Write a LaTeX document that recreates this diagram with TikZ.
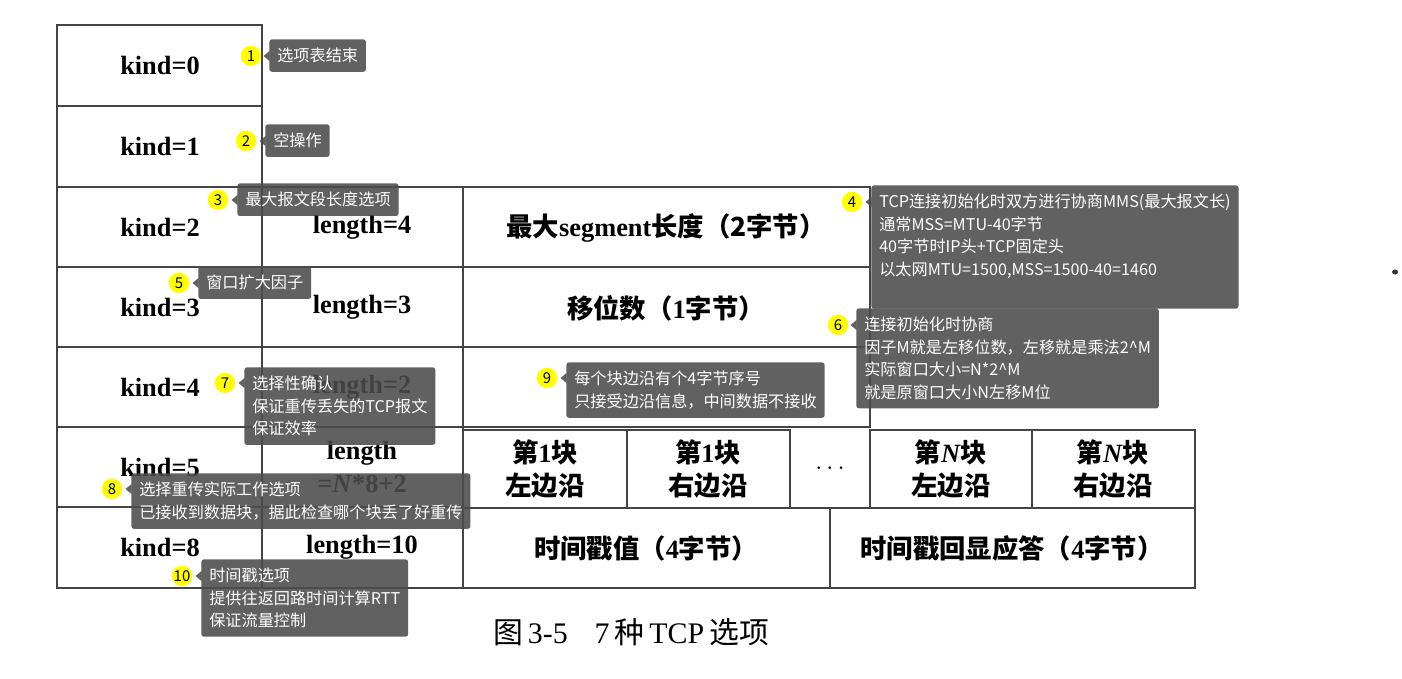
\documentclass[tikz,border=0pt]{standalone}
\usepackage{fontspec}
\setmainfont{Liberation Serif}
\newfontfamily\cjk{Noto Sans CJK SC}
\usepackage{tikz}
\usetikzlibrary{positioning}
\definecolor{gridgray}{rgb}{0.27,0.27,0.27}
\definecolor{notegray}{rgb}{0.30,0.30,0.30}
\definecolor{badgeyel}{rgb}{1.00,1.00,0.00}
\newcommand{\zh}[1]{{\cjk\bfseries #1}}
\tikzset{
  grid/.style={draw=gridgray, line width=1.3pt},
  cell/.style={font=\fontsize{15}{19}\selectfont\bfseries, align=center, inner sep=0pt},
  note/.style={fill=notegray, fill opacity=0.88, text opacity=1, text=white,
    rounded corners=1.5pt, anchor=north west, align=left,
    font=\cjk\fontsize{9.2}{12.8}\selectfont, inner xsep=4.5pt, inner ysep=5pt},
  badge/.style={circle, fill=badgeyel, minimum size=0.41cm, inner sep=0pt,
    font=\cjk\fontsize{8.5}{10}\selectfont}
}

\begin{document}
\begin{tikzpicture}[x=0.02cm, y=-0.02cm]
    \fill[white] (0,0) rectangle (1402,679);
    \useasboundingbox (0,0) rectangle (1402,679);

    % kind column
    \foreach \k/\ya/\yb in {0/25/106, 1/106/187, 2/187/267, 3/267/347, 4/347/427, 5/427/507, 8/507/588}{
      \draw[grid] (57,\ya) rectangle (262,\yb);
      \node[cell] (kind\k) at (160,{(\ya+\yb)/2}) {kind=\k};
    }

    % length column
    \foreach \k/\ya/\yb/\len in {2/187/267/4, 3/267/347/3, 4/347/427/2, 8/507/588/10}{
      \draw[grid] (262,\ya) rectangle (463,\yb);
      \node[cell] (len\k) at (362,{(\ya+\yb)/2}) {length=\len};
    }
    \draw[grid] (262,427) rectangle (463,507);
    \node[cell] (len5) at (362,467) {length\\=\textit{N}*8+2};

    % data cells
    \draw[grid] (463,187) rectangle (870,267);
    \node[cell] (mss) at (666,228) {\zh{最大}segment\zh{长度（2字节）}};
    \draw[grid] (463,267) rectangle (870,347);
    \node[cell] (shift) at (666,308) {\zh{移位数（}1\zh{字节）}};
    \draw[grid] (463,347) rectangle (870,427);

    \draw[grid] (463,430) rectangle (627,508);
    \node[cell] (l1) at (545,469) {\zh{第}1\zh{块}\\\zh{左边沿}};
    \draw[grid] (627,430) rectangle (790,508);
    \node[cell] (r1) at (708,469) {\zh{第}1\zh{块}\\\zh{右边沿}};
    \node[cell] (dots) at (830,469) {\normalfont$\cdots$};
    \draw[grid] (870,430) rectangle (1032,508);
    \node[cell] (ln) at (951,469) {\zh{第}\textit{N}\zh{块}\\\zh{左边沿}};
    \draw[grid] (1032,430) rectangle (1195,508);
    \node[cell] (rn) at (1113,469) {\zh{第}\textit{N}\zh{块}\\\zh{右边沿}};

    \draw[grid] (463,508) rectangle (830,588);
    \node[cell] (tsval) at (646,548) {\zh{时间戳值（}4\zh{字节）}};
    \draw[grid] (830,508) rectangle (1195,588);
    \node[cell] (tsecr) at (1012,548) {\zh{时间戳回显应答（}4\zh{字节）}};

    % caption
    \node[font=\fontsize{17}{20}\selectfont] (cap) at (631,632)
      {{\cjk 图}\,3-5\hspace{0.9em}7\,{\cjk 种}\,TCP\,{\cjk 选项}};

    % speck
    \fill[black!80] (1395,272) ellipse (3 and 2.5);

    % notes
    \node[badge] (b1) at (251,56) {1};
    \node[note] (t1) at (269,39) {选项表结束};
    \node[badge] (b2) at (246,141) {2};
    \node[note] (t2) at (265,124) {空操作};
    \node[badge] (b3) at (218,200) {3};
    \node[note] (t3) at (237,183) {最大报文段长度选项};
    \node[badge] (b4) at (852,202) {4};
    \node[note, text depth=14pt] (t4) at (871,185)
      {TCP连接初始化时双方进行协商MMS(最大报文长)\\通常MSS=MTU-40字节\\40字节时IP头+TCP固定头\\以太网MTU=1500,MSS=1500-40=1460};
    \node[badge] (b5) at (179,283) {5};
    \node[note] (t5) at (198,266) {窗口扩大因子};
    \node[badge] (b6) at (838,325) {6};
    \node[note] (t6) at (856,308)
      {连接初始化时协商\\因子M就是左移位数，左移就是乘法2\^{}M\\实际窗口大小=N*2\^{}M\\就是原窗口大小N左移M位};
    \node[badge] (b7) at (225,383) {7};
    \node[note] (t7) at (244,367) {选择性确认\\保证重传丢失的TCP报文\\保证效率};
    \node[badge] (b8) at (112,489) {8};
    \node[note] (t8) at (131,473) {选择重传实际工作选项\\已接收到数据块，据此检查哪个块丢了好重传};
    \node[badge] (b9) at (547,378) {9};
    \node[note] (t9) at (566,362) {每个块边沿有个4字节序号\\只接受边沿信息，中间数据不接收};
    \node[badge] (b10) at (182,576) {10};
    \node[note] (t10) at (201,559) {时间戳选项\\提供往返回路时间计算RTT\\保证流量控制};

    % pointers
    \foreach \i in {1,...,10}{
      \fill[notegray, fill opacity=0.88] (t\i.west |- b\i) ++(0.5,-5) -- ++(-6,5) -- ++(6,5) -- cycle;
    }
  \end{tikzpicture}
\end{document}
